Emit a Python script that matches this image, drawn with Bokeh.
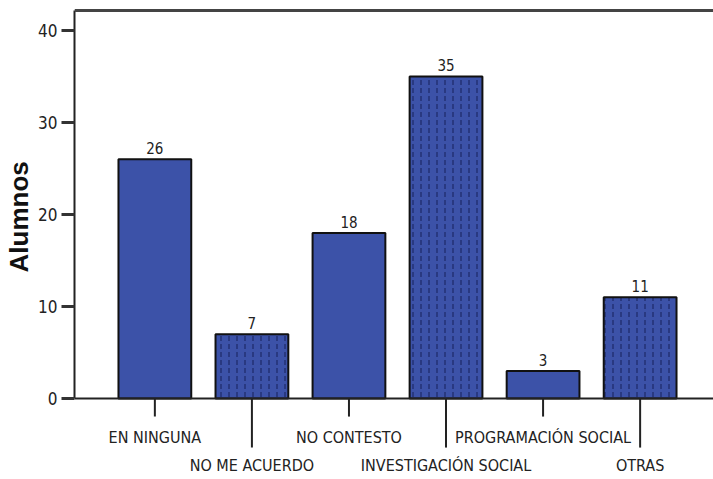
from bokeh.plotting import figure
from bokeh.models import Range1d, FixedTicker, Span, ColumnDataSource, Title
from bokeh.core.properties import value
from bokeh.embed import file_html
from bokeh.resources import INLINE

# ---- data ----
categories = ["EN NINGUNA", "NO ME ACUERDO", "NO CONTESTO",
              "INVESTIGACIÓN SOCIAL", "PROGRAMACIÓN SOCIAL", "OTRAS"]
alumnos = [26, 7, 18, 35, 3, 11]
hatched = [False, True, False, True, False, True]
y_ticks = [0, 10, 20, 30, 40]
y_title = "Alumnos"

# ---- style constants ----
FONT_NAME = "Liberation Sans Narrow, DejaVu Sans Condensed, Arial Narrow, sans-serif"
FONT = value(FONT_NAME)
BAR_COLOR = "#3c52a8"
HATCH_COLOR = "#15205a"
Y_TOP = 42.17          # top of axis frame
Y_END = 43.26
Y_START = -8.80
X_START, X_END = -0.828, 5.756
SHORT_TICK, LONG_TICK = 1.96, 5.33
ROW1_Y, ROW2_Y = -4.24, -7.28

xs = list(range(len(categories)))
plain = ColumnDataSource(dict(x=[x for x, h in zip(xs, hatched) if not h],
                              top=[v for v, h in zip(alumnos, hatched) if not h]))
dotted = ColumnDataSource(dict(x=[x for x, h in zip(xs, hatched) if h],
                               top=[v for v, h in zip(alumnos, hatched) if h]))

p = figure(width=713, height=479, output_backend="svg", toolbar_location=None,
           x_range=Range1d(X_START, X_END), y_range=Range1d(Y_START, Y_END),
           x_axis_location=None, min_border_left=0, min_border_right=0,
           min_border_top=0, min_border_bottom=0)
p.outline_line_color = None
p.grid.visible = False
p.background_fill_color = "white"
p.border_fill_color = "white"

# y axis
ax = p.yaxis[0]
ax.ticker = FixedTicker(ticks=y_ticks)
ax.bounds = (0, Y_TOP)
ax.axis_line_width = 2
ax.axis_line_color = "#222222"
ax.major_tick_in = 0
ax.major_tick_out = 13
ax.major_tick_line_width = 3
ax.major_tick_line_color = "#333333"
ax.minor_tick_line_color = None
ax.major_label_text_font = FONT_NAME
ax.major_label_text_font_size = "17px"
ax.major_label_text_color = "#222222"
ax.major_label_standoff = 4

# y title placed along the axis extent
p.add_layout(Title(text=y_title, align="left", offset=207,
                   text_font="Liberation Sans, Arial, sans-serif",
                   text_font_style="bold", text_font_size="26px",
                   text_color="#111111", standoff=3), "left")

# frame lines
p.add_layout(Span(location=Y_TOP, dimension="width", line_color="#444444", line_width=3))
p.add_layout(Span(location=0, dimension="width", line_color="#222222", line_width=2))

# bars
p.vbar(x="x", top="top", bottom=0, width=0.75, source=plain,
       fill_color=BAR_COLOR, line_color="#111111", line_width=2)
p.vbar(x="x", top="top", bottom=0, width=0.75, source=dotted,
       fill_color=BAR_COLOR, line_color="#111111", line_width=2,
       hatch_pattern="vertical_dash", hatch_color=HATCH_COLOR,
       hatch_scale=8, hatch_weight=1)

# value labels
p.text(x=xs, y=alumnos, text=[str(v) for v in alumnos], text_font=FONT,
       text_font_size="15px", text_color="#222222", text_align="center",
       text_baseline="bottom", y_offset=-5)

# category ticks and labels (alternating rows)
tick_len = [SHORT_TICK if i % 2 == 0 else LONG_TICK for i in xs]
p.segment(x0=xs, y0=[0] * len(xs), x1=xs, y1=[-t for t in tick_len],
          line_color="#222222", line_width=2)
p.text(x=xs, y=[ROW1_Y if i % 2 == 0 else ROW2_Y for i in xs], text=categories,
       text_font=FONT, text_font_size="16px", text_color="#222222",
       text_align="center", text_baseline="middle")

open("out.html", "w").write(file_html(p, INLINE))
